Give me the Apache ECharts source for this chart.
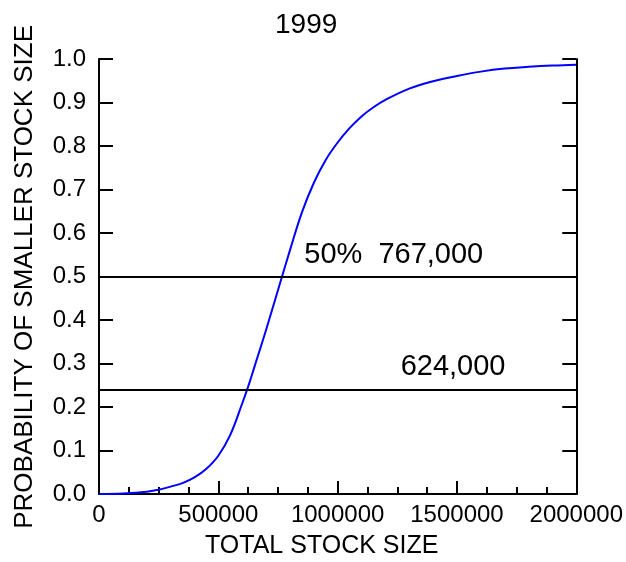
<!DOCTYPE html>
<html>
<head>
<meta charset="utf-8">
<script src="https://cdn.jsdelivr.net/npm/echarts@6/dist/echarts.min.js"></script>
<style>html,body{margin:0;padding:0;background:#fff}#c{width:626px;height:562px}</style>
</head>
<body>
<div id="c"></div>
<script>
var titleText = '1999';
var xName = 'TOTAL STOCK SIZE';
var yName = 'PROBABILITY OF SMALLER STOCK SIZE';
var stockSize = [0, 100000, 200000, 250000, 300000, 350000, 400000, 450000, 500000, 550000, 600000, 624000, 650000, 700000, 767000, 800000, 850000, 900000, 950000, 1000000, 1050000, 1100000, 1150000, 1200000, 1300000, 1400000, 1500000, 1600000, 1700000, 1800000, 1900000, 2000000];
var probability = [0, 0.001, 0.005, 0.010, 0.017, 0.025, 0.038, 0.058, 0.088, 0.136, 0.208, 0.245, 0.29, 0.377, 0.50, 0.56, 0.647, 0.715, 0.768, 0.808, 0.841, 0.868, 0.889, 0.906, 0.932, 0.949, 0.961, 0.971, 0.978, 0.982, 0.985, 0.987];
var refLevels = [0.5, 0.245];
var refLabels = ['50%  767,000', '624,000'];
var refLabelPos = [[858000, 0.55], [1262000, 0.293]];

var FONT = '"Liberation Sans", Arial, sans-serif';
var chart = echarts.init(document.getElementById('c'), null, {renderer: 'canvas'});
var pts = stockSize.map(function (x, i) { return [x, probability[i]]; });
chart.setOption({
  animation: false,
  backgroundColor: '#fff',
  title: {
    text: titleText, left: 270, top: 6,
    textStyle: {fontFamily: FONT, fontSize: 28, fontWeight: 'normal', color: '#000'}
  },
  grid: {left: 99, right: 47, top: 59, bottom: 68, containLabel: false},
  xAxis: {
    type: 'value', min: 0, max: 2000000, interval: 500000,
    axisLine: {show: true, onZero: false, lineStyle: {color: '#000', width: 2}},
    axisTick: {show: true, inside: true, length: 13, lineStyle: {color: '#000', width: 2}},
    minorTick: {show: true, splitNumber: 4, length: 7, lineStyle: {color: '#000', width: 2}},
    axisLabel: {margin: 9, color: '#000', fontFamily: FONT, fontSize: 24, formatter: function (v) { return String(v); }},
    splitLine: {show: false}
  },
  yAxis: [{
    type: 'value', min: 0, max: 1, interval: 0.1, position: 'left',
    axisLine: {show: true, lineStyle: {color: '#000', width: 2}},
    axisTick: {show: true, inside: true, length: 14, lineStyle: {color: '#000', width: 2}},
    axisLabel: {margin: 13, color: '#000', fontFamily: FONT, fontSize: 24, formatter: function (v) { return v.toFixed(1); }},
    splitLine: {show: false}
  }, {
    type: 'value', min: 0, max: 1, interval: 0.1, position: 'right',
    axisLine: {show: true, lineStyle: {color: '#000', width: 2}},
    axisTick: {show: true, inside: true, length: 14, lineStyle: {color: '#000', width: 2}},
    axisLabel: {show: false},
    splitLine: {show: false}
  }],
  graphic: [{
    type: 'text', left: 205, top: 534,
    style: {text: xName, fill: '#000', font: '25px ' + FONT}
  }, {
    type: 'text', rotation: Math.PI / 2, left: 12, top: 25,
    style: {text: yName, fill: '#000', font: '26px ' + FONT}
  }],
  series: [{
    type: 'line', data: pts, showSymbol: false, smooth: 0.4,
    lineStyle: {color: '#0000ff', width: 2}, z: 3,
    markLine: {
      silent: true, symbol: 'none', label: {show: false},
      lineStyle: {color: '#000', width: 2, type: 'solid'},
      data: refLevels.map(function (v) { return {yAxis: v}; })
    },
    markPoint: {
      symbol: 'circle', symbolSize: 1, silent: true,
      itemStyle: {color: 'rgba(0,0,0,0)'},
      data: refLabelPos.map(function (p, i) {
        return {coord: p, label: {show: true, position: 'right', distance: 0, formatter: refLabels[i], color: '#000', fontFamily: FONT, fontSize: 29}};
      })
    }
  }]
});
</script>
</body>
</html>
